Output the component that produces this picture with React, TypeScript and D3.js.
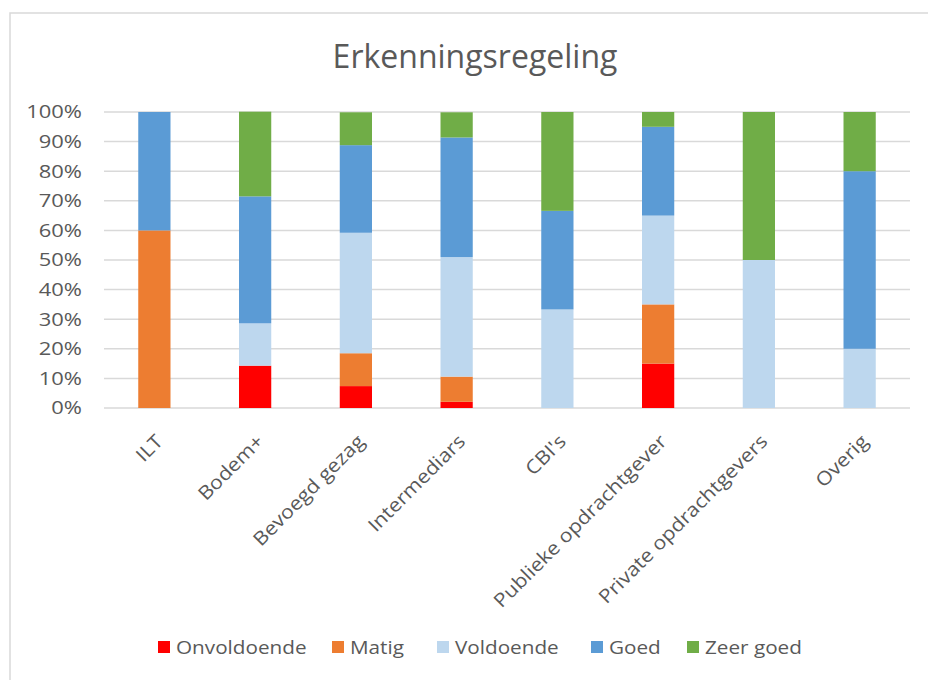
import React from "react";
import * as d3 from "d3";

const categories = ["ILT", "Bodem+", "Bevoegd gezag", "Intermediars", "CBI's", "Publieke opdrachtgever", "Private opdrachtgevers", "Overig"];
const seriesNames = ["Onvoldoende", "Matig", "Voldoende", "Goed", "Zeer goed"];
const seriesColors = ["#FF0000", "#ED7D31", "#BDD7EE", "#5B9BD5", "#70AD47"];
const onvoldoende = [0, 14.3, 7.4, 2.1, 0, 15, 0, 0];
const matig = [60, 0, 11.1, 8.5, 0, 20, 0, 0];
const voldoende = [0, 14.3, 40.7, 40.4, 33.3, 30, 50, 20];
const goed = [40, 42.9, 29.6, 40.4, 33.3, 30, 0, 60];
const zeerGoed = [0, 28.6, 11.1, 8.5, 33.4, 5, 50, 20];
const yTicks = [0, 10, 20, 30, 40, 50, 60, 70, 80, 90, 100];
const title = "Erkenningsregeling";

const W = 928, H = 680;
const FONT = "'Open Sans', sans-serif";
const TEXT = "#595959";

export default function App() {
  const left = 104, right = 910, top = 112, bottom = 408;
  const x = d3.scaleBand<string>().domain(categories).range([left, right]).paddingInner(0.68).paddingOuter(0.34);
  const y = d3.scaleLinear().domain([0, 100]).range([bottom, top]);

  const rows = categories.map((c, i) => ({
    cat: c,
    Onvoldoende: onvoldoende[i],
    Matig: matig[i],
    Voldoende: voldoende[i],
    Goed: goed[i],
    "Zeer goed": zeerGoed[i],
  }));
  const stack = d3.stack<any>().keys(seriesNames)(rows);

  const legendX = [158, 332, 437, 591, 687];

  return (
    <svg width={W} height={H} style={{ position: "absolute", left: 0, top: 0, background: "#fff" }} fontFamily={FONT}>
      <rect x={10} y={13} width={940} height={700} fill="#fff" stroke="#d9d9d9" strokeWidth={1.5} />
      <text x={475} y={68} textAnchor="middle" fontSize={32} fill={TEXT}>{title}</text>
      {yTicks.map((t) => (
        <g key={t}>
          <line x1={left} x2={right} y1={y(t)} y2={y(t)} stroke="#d9d9d9" strokeWidth={1.5} />
          <text transform={`translate(82,${y(t)}) scale(1.22,1)`} dy="0.36em" textAnchor="end" fontSize={18} fill={TEXT}>{t}%</text>
        </g>
      ))}
      {stack.map((s, si) => (
        <g key={s.key} fill={seriesColors[si]}>
          {s.map((d, i) => {
            const h = y(d[0]) - y(d[1]);
            if (h <= 0) return null;
            return <rect key={i} x={x(categories[i])} y={y(d[1])} width={x.bandwidth()} height={h} />;
          })}
        </g>
      ))}
      {categories.map((c) => {
        const cx = (x(c) as number) + x.bandwidth() / 2;
        return (
          <text key={c} transform={`translate(${cx},${433}) rotate(-45) scale(1.12,1)`} textAnchor="end" dy="0.72em" fontSize={19} fill={TEXT}>{c}</text>
        );
      })}
      {seriesNames.map((n, i) => (
        <g key={n} transform={`translate(${legendX[i]},641)`}>
          <rect x={0} y={0} width={12} height={12} fill={seriesColors[i]} />
          <text transform="translate(18,6) scale(1.09,1)" dy="0.36em" fontSize={19} fill={TEXT}>{n}</text>
        </g>
      ))}
    </svg>
  );
}
